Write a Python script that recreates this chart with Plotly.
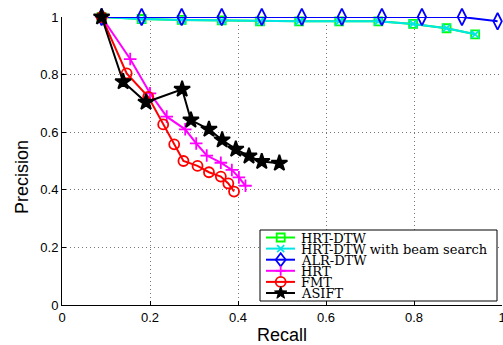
import math
import plotly.graph_objects as go

# ---------------- data ----------------
series_names = ["HRT-DTW", "HRT-DTW with beam search", "ALR-DTW", "HRT", "FMT", "ASIFT"]

recall_hrt_dtw = [0.09, 0.181, 0.272, 0.363, 0.45, 0.539, 0.630, 0.719, 0.798, 0.874, 0.939]
prec_hrt_dtw = [1.0, 0.993, 0.99, 0.988, 0.985, 0.985, 0.985, 0.985, 0.976, 0.961, 0.94]

recall_hrt_dtw_beam = [0.09, 0.181, 0.272, 0.363, 0.45, 0.539, 0.630, 0.719, 0.798, 0.874, 0.939]
prec_hrt_dtw_beam = [1.0, 0.993, 0.99, 0.988, 0.985, 0.985, 0.985, 0.985, 0.976, 0.961, 0.94]

recall_alr_dtw = [0.09, 0.181, 0.272, 0.363, 0.454, 0.545, 0.636, 0.727, 0.818, 0.909, 0.99]
prec_alr_dtw = [1.0, 1.0, 1.0, 1.0, 1.0, 1.0, 1.0, 1.0, 1.0, 1.0, 0.985]

recall_hrt = [0.09, 0.155, 0.2, 0.238, 0.280, 0.305, 0.329, 0.361, 0.386, 0.402, 0.417]
prec_hrt = [1.0, 0.854, 0.735, 0.654, 0.610, 0.561, 0.519, 0.494, 0.469, 0.443, 0.414]

recall_fmt = [0.09, 0.147, 0.196, 0.230, 0.255, 0.276, 0.308, 0.334, 0.361, 0.378, 0.391]
prec_fmt = [1.0, 0.804, 0.723, 0.627, 0.558, 0.500, 0.483, 0.461, 0.446, 0.422, 0.394]

recall_asift = [0.09, 0.139, 0.191, 0.273, 0.293, 0.334, 0.364, 0.395, 0.425, 0.454, 0.494]
prec_asift = [1.0, 0.775, 0.704, 0.749, 0.642, 0.610, 0.573, 0.541, 0.517, 0.498, 0.492]

tick_vals = [0, 0.2, 0.4, 0.6, 0.8, 1]
tick_text = ["0", "0.2", "0.4", "0.6", "0.8", "1"]

# ---------------- styles ----------------
W, H = 503, 345
L, R, T, B = 62, 1, 17, 40
PW, PH = W - L - R, H - T - B

styles = [
    dict(color="#00ff00", symbol="square-open", size=8),
    dict(color="#00e5e5", symbol="x-thin-open", size=8),
    dict(color="#0000ff", symbol="diamond-tall-open", size=12),
    dict(color="#ff00ff", symbol="cross-thin-open", size=9),
    dict(color="#ff0000", symbol="circle-open", size=10),
    dict(color="#000000", symbol="star", size=12),
]

data = [
    (recall_hrt_dtw, prec_hrt_dtw),
    (recall_hrt_dtw_beam, prec_hrt_dtw_beam),
    (recall_alr_dtw, prec_alr_dtw),
    (recall_hrt, prec_hrt),
    (recall_fmt, prec_fmt),
    (recall_asift, prec_asift),
]

fig = go.Figure()
for name, (xs, ys), st in zip(series_names, data, styles):
    fig.add_trace(go.Scatter(
        x=xs, y=ys, name=name, mode="lines+markers",
        line=dict(color=st["color"], width=2),
        marker=dict(symbol=st["symbol"], size=st["size"], color=st["color"],
                    line=dict(color=st["color"], width=1.8)),
        cliponaxis=False, showlegend=False,
    ))

# ---------------- manual legend (paper coordinates) ----------------
def dx(px):
    return px / PW

def dy(px):
    return px / PH

def X(px):
    return (px - L) / PW

def Y(py):
    return (H - B - py) / PH

shapes = []
annotations = []

shapes.append(dict(type="rect", xref="paper", yref="paper", x0=X(260), x1=X(497), y0=Y(301), y1=Y(230),
                   line=dict(color="black", width=1), fillcolor="white", layer="above"))

row_y = [237.5, 248.6, 259.7, 270.8, 281.9, 293.0]
line_x0, line_x1, mark_x, text_x = 266, 295, 280.7, 299

for i, (name, st) in enumerate(zip(series_names, styles)):
    yc = row_y[i]
    c = st["color"]
    shapes.append(dict(type="line", xref="paper", yref="paper", x0=X(line_x0), x1=X(line_x1),
                       y0=Y(yc), y1=Y(yc), line=dict(color=c, width=2), layer="above"))
    cx, cy = X(mark_x), Y(yc)
    sym = st["symbol"]
    if sym.startswith("square"):
        r = 4
        shapes.append(dict(type="rect", xref="paper", yref="paper", x0=cx - dx(r), x1=cx + dx(r),
                           y0=cy - dy(r), y1=cy + dy(r), line=dict(color=c, width=1.8), layer="above"))
    elif sym.startswith("x"):
        r = 3.5
        for s in (1, -1):
            shapes.append(dict(type="line", xref="paper", yref="paper", x0=cx - dx(r), x1=cx + dx(r),
                               y0=cy - s * dy(r), y1=cy + s * dy(r), line=dict(color=c, width=1.8), layer="above"))
    elif sym.startswith("diamond"):
        rx, ry = 5, 6.5
        path = (f"M {cx - dx(rx)},{cy} L {cx},{cy + dy(ry)} L {cx + dx(rx)},{cy} "
                f"L {cx},{cy - dy(ry)} Z")
        shapes.append(dict(type="path", xref="paper", yref="paper", path=path,
                           line=dict(color=c, width=1.8), layer="above"))
    elif sym.startswith("cross"):
        r = 5
        shapes.append(dict(type="line", xref="paper", yref="paper", x0=cx - dx(r), x1=cx + dx(r),
                           y0=cy, y1=cy, line=dict(color=c, width=1.8), layer="above"))
        shapes.append(dict(type="line", xref="paper", yref="paper", x0=cx, x1=cx,
                           y0=cy - dy(r), y1=cy + dy(r), line=dict(color=c, width=1.8), layer="above"))
    elif sym.startswith("circle"):
        r = 5
        shapes.append(dict(type="circle", xref="paper", yref="paper", x0=cx - dx(r), x1=cx + dx(r),
                           y0=cy - dy(r), y1=cy + dy(r), line=dict(color=c, width=1.8), layer="above"))
    elif sym == "star":
        ro, ri = 6.5, 2.7
        pts = []
        for k in range(10):
            ang = math.pi / 2 + k * math.pi / 5
            rr = ro if k % 2 == 0 else ri
            pts.append((cx + dx(rr * math.cos(ang)), cy + dy(rr * math.sin(ang))))
        path = "M " + " L ".join(f"{px},{py}" for px, py in pts) + " Z"
        shapes.append(dict(type="path", xref="paper", yref="paper", path=path,
                           line=dict(color=c, width=1), fillcolor=c, layer="above"))
    annotations.append(dict(x=X(text_x), y=Y(yc + 0.5), xref="paper", yref="paper", text=name,
                            showarrow=False, xanchor="left", yanchor="middle",
                            font=dict(family="DejaVu Serif", size=13, color="black")))

# axis titles
annotations.append(dict(x=X(282), y=Y(335), xref="paper", yref="paper", text="Recall", showarrow=False,
                        xanchor="center", yanchor="middle",
                        font=dict(family="Liberation Sans", size=18, color="black")))
annotations.append(dict(x=X(22), y=Y(177), xref="paper", yref="paper", text="Precision", showarrow=False,
                        xanchor="center", yanchor="middle", textangle=-90,
                        font=dict(family="Liberation Sans", size=18, color="black")))

axis_common = dict(
    range=[0, 1], tickvals=tick_vals, ticktext=tick_text,
    showgrid=True, gridcolor="#777777", griddash="1px,3px", gridwidth=1,
    zeroline=False, showline=True, linecolor="black", linewidth=1,
    ticks="inside", ticklen=4, tickcolor="black",
    tickfont=dict(family="Liberation Sans", size=13, color="black"),
    fixedrange=True, automargin=False, ticklabeloverflow="allow",
)

fig.update_layout(
    width=W, height=H,
    margin=dict(l=L, r=R, t=T, b=B, pad=0, autoexpand=False),
    paper_bgcolor="white", plot_bgcolor="white",
    xaxis=dict(**axis_common),
    yaxis=dict(**axis_common),
    shapes=shapes, annotations=annotations,
    showlegend=False,
)

fig.write_html(
    "out.html",
    config={"displayModeBar": False},
    post_script="document.body.style.margin='0';document.body.style.padding='0';",
)
